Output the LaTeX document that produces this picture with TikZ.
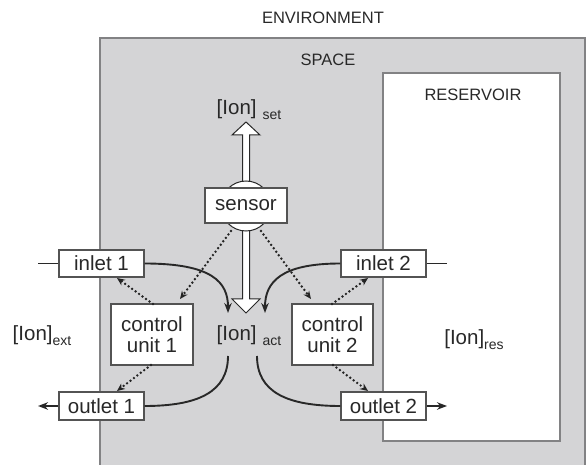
\documentclass[tikz,border=0pt]{standalone}
\usepackage{fontspec}
\setmainfont{Liberation Sans}
\usetikzlibrary{arrows.meta}
\definecolor{spacegray}{RGB}{212,212,214}
\definecolor{edgegray}{RGB}{130,130,132}
\definecolor{ink}{RGB}{40,40,40}
\newcommand{\bigtxt}{\fontsize{20.5}{23}\selectfont}
\newcommand{\midtxt}{\fontsize{16.5}{19}\selectfont}
\newcommand{\subtxt}[1]{{\fontsize{14}{14}\selectfont\raisebox{-5pt}{#1}}}
\begin{document}
\begin{tikzpicture}[x=1pt,y=-1pt,
  box/.style={draw=ink!80,line width=1.1pt,fill=white,inner sep=0pt,text=ink,font=\bigtxt,align=center},
  lbl/.style={inner sep=0pt,text=ink},
  flow/.style={draw=ink,line width=1.9pt,-{Stealth[length=10pt,width=7.5pt]}},
  plain/.style={draw=ink,line width=1.9pt},
  ctrl/.style={draw=ink!90!black,line width=2.7pt,line cap=round,dash pattern=on 0pt off 4.3pt,-{Stealth[length=8pt,width=7pt,line cap=butt,line width=0pt]}},
  hollow/.style={draw=ink,line width=1pt,fill=white}]
\useasboundingbox (0,0) rectangle (587,465);
\clip (0,0) rectangle (587,465);
% space and reservoir
\draw[fill=spacegray,draw=edgegray,line width=1.3pt] (100,38) rectangle (585,480);
\draw[fill=white,draw=edgegray,line width=1.6pt] (383,73) rectangle (560,441);
% region labels
\node[lbl,font=\midtxt] (env) at (323,18) {ENVIRONMENT};
\node[lbl,font=\midtxt] (space) at (328,60) {SPACE};
\node[lbl,font=\midtxt] (res) at (473,95) {RESERVOIR};
% hollow arrows
\draw[hollow] (242.5,185) -- (242.5,135) -- (232,135) -- (246,122) -- (260,135) -- (249.5,135) -- (249.5,185) -- cycle;
\draw[hollow] (242.5,225) -- (242.5,299) -- (232,299) -- (246,313) -- (260,299) -- (249.5,299) -- (249.5,225) -- cycle;
\draw[hollow] (246,206) circle[radius=25];
% nodes
\node[box,minimum width=82pt,minimum height=35pt] (sensor) at (246,205.5) {sensor};
\node[box,minimum width=85pt,minimum height=27pt] (inlet1) at (101.5,263.5) {inlet 1};
\node[box,minimum width=85pt,minimum height=28pt] (outlet1) at (101.5,406) {outlet 1};
\node[box,minimum width=82pt,minimum height=61pt] (cu1) at (152,334.5) {control\\[-2pt]unit 1};
\node[box,minimum width=85pt,minimum height=27pt] (inlet2) at (383.5,263.5) {inlet 2};
\node[box,minimum width=85pt,minimum height=28pt] (outlet2) at (383.5,406) {outlet 2};
\node[box,minimum width=81pt,minimum height=61pt] (cu2) at (332.5,334.5) {control\\[-2pt]unit 2};
% ion labels
\node[lbl,font=\bigtxt] (ionset) at (249,110) {[Ion]\hspace{6pt}\subtxt{set}};
\node[lbl,font=\bigtxt] (ionact) at (249,336) {[Ion]\hspace{6pt}\subtxt{act}};
\node[lbl,font=\bigtxt] (ionext) at (42,336) {[Ion]\subtxt{ext}};
\node[lbl,font=\bigtxt] (ionres) at (474,340) {[Ion]\subtxt{res}};
% coordinates
\coordinate (inL) at (38,263.5);
\coordinate (inR) at (447,263.5);
\coordinate (outL) at (38,406);
\coordinate (outR) at (447,406);
\coordinate (actTL) at (228,313);
\coordinate (actTR) at (265,313);
\coordinate (actBL) at (228,356);
\coordinate (actBR) at (257,356);
\coordinate (sL) at (231,231);
\coordinate (sR) at (261,231);
\coordinate (c1t) at (180,299);
\coordinate (c2t) at (311,299);
\coordinate (i1b) at (117,278);
\coordinate (o1t) at (117,391);
\coordinate (i2b) at (368,278);
\coordinate (o2t) at (368,391);
\coordinate (c1a) at (153,304);
\coordinate (c1b) at (151,365);
\coordinate (c2a) at (332,304);
\coordinate (c2b) at (333,365);
% flows
\draw[plain] (inL) -- (inlet1.west);
\draw[plain] (inlet2.east) -- (inR);
\draw[flow] (outlet1.west) -- (outL);
\draw[flow] (outlet2.east) -- (outR);
\draw[flow] (inlet1.east) .. controls (212,263.5) and (228,282) .. (actTL);
\draw[flow] (inlet2.west) .. controls (281,263.5) and (265,282) .. (actTR);
\draw[plain] (actBL) .. controls (228,392) and (198,406) .. (outlet1.east);
\draw[plain] (actBR) .. controls (257,392) and (287,406) .. (outlet2.west);
% control signals
\draw[ctrl] (sL) -- (c1t);
\draw[ctrl] (sR) -- (c2t);
\draw[ctrl] (c1a) -- (i1b);
\draw[ctrl] (c1b) -- (o1t);
\draw[ctrl] (c2a) -- (i2b);
\draw[ctrl] (c2b) -- (o2t);
\end{tikzpicture}
\end{document}
